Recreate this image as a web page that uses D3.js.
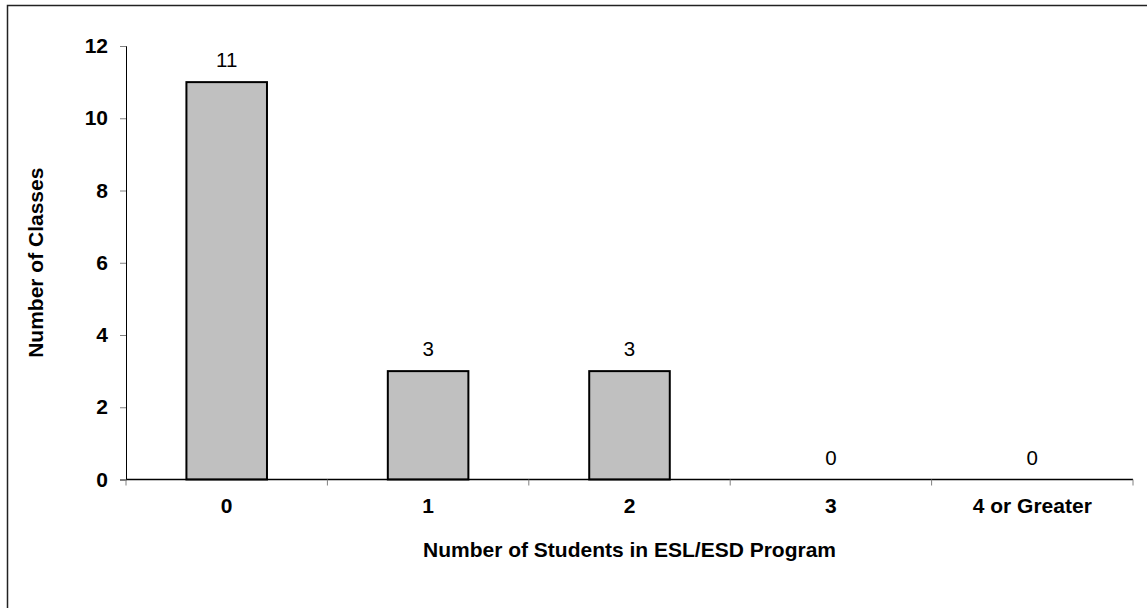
<html>
<head>
    <style>
        body { margin: 0; background: white; }
        text { font-family: "Liberation Sans", Arial, sans-serif; }
    </style>
</head>
<body>
    <svg id="container" height="608" width="1147"></svg>
</body>
<script src="https://cdn.jsdelivr.net/npm/d3@7"></script>
<script>
    // data
    let categories = ["0", "1", "2", "3", "4 or Greater"]
    let counts = [11, 3, 3, 0, 0]
    let yTicks = [0, 2, 4, 6, 8, 10, 12]

    let svg = d3.select("#container")

    // outer frame, only left and top edges show
    svg.append("rect")
        .attr("x", 7.5).attr("y", 5.5)
        .attr("width", 1200).attr("height", 700)
        .attr("fill", "none")
        .attr("stroke", "#222")
        .attr("stroke-width", 1.5)

    let plotLeft = 126, plotRight = 1133, plotTop = 46, plotBottom = 479.5

    let x = d3.scaleBand()
        .domain(categories)
        .range([plotLeft, plotRight])
        .paddingInner(0.6)
        .paddingOuter(0.3)

    let y = d3.scaleLinear()
        .domain([0, 12])
        .range([plotBottom, plotTop])

    // bars
    svg.selectAll("rect.bar").data(counts)
        .enter().append("rect")
        .attr("class", "bar")
        .attr("x", (d, i) => x(categories[i]))
        .attr("width", x.bandwidth())
        .attr("y", d => y(d))
        .attr("height", d => y(0) - y(d))
        .attr("fill", "#c0c0c0")
        .attr("stroke", "black")
        .attr("stroke-width", 2)

    // value labels
    svg.selectAll("text.val").data(counts)
        .enter().append("text")
        .attr("class", "val")
        .attr("x", (d, i) => x(categories[i]) + x.bandwidth() / 2)
        .attr("y", d => y(d) - 15)
        .attr("text-anchor", "middle")
        .attr("font-size", 20.5)
        .text(d => d)

    // y axis
    let yAxis = svg.append("g")
        .attr("transform", `translate(${plotLeft},0)`)
        .call(d3.axisLeft(y).tickValues(yTicks).tickSize(6).tickPadding(12))
    yAxis.select(".domain").attr("stroke", "black")
    yAxis.selectAll(".tick line").attr("stroke", "#808080")
    yAxis.selectAll(".tick text")
        .attr("font-size", 21).attr("font-weight", "bold")
        .attr("font-family", "Liberation Sans, Arial, sans-serif")
        .attr("fill", "black")

    // x axis: ticks sit at the band boundaries
    let xb = d3.scaleLinear().domain([0, categories.length]).range([plotLeft, plotRight])
    let xAxis = svg.append("g")
        .attr("transform", `translate(0,${plotBottom})`)
    xAxis.append("line")
        .attr("x1", plotLeft).attr("x2", plotRight)
        .attr("stroke", "black").attr("stroke-width", 1.5)
    xAxis.selectAll("line.tk").data(d3.range(categories.length + 1))
        .enter().append("line")
        .attr("class", "tk")
        .attr("x1", d => xb(d)).attr("x2", d => xb(d))
        .attr("y1", 0).attr("y2", 6)
        .attr("stroke", "#808080")
    xAxis.selectAll("text").data(categories)
        .enter().append("text")
        .attr("x", d => x(d) + x.bandwidth() / 2)
        .attr("y", 33)
        .attr("text-anchor", "middle")
        .attr("font-size", 21).attr("font-weight", "bold")
        .text(d => d)

    // axis titles
    svg.append("text")
        .attr("x", (plotLeft + plotRight) / 2)
        .attr("y", 557)
        .attr("text-anchor", "middle")
        .attr("font-size", 21).attr("font-weight", "bold")
        .text("Number of Students in ESL/ESD Program")

    svg.append("text")
        .attr("transform", `translate(42.5,${(plotTop + plotBottom) / 2}) rotate(-90)`)
        .attr("text-anchor", "middle")
        .attr("font-size", 21).attr("font-weight", "bold")
        .text("Number of Classes")
</script>
</html>
